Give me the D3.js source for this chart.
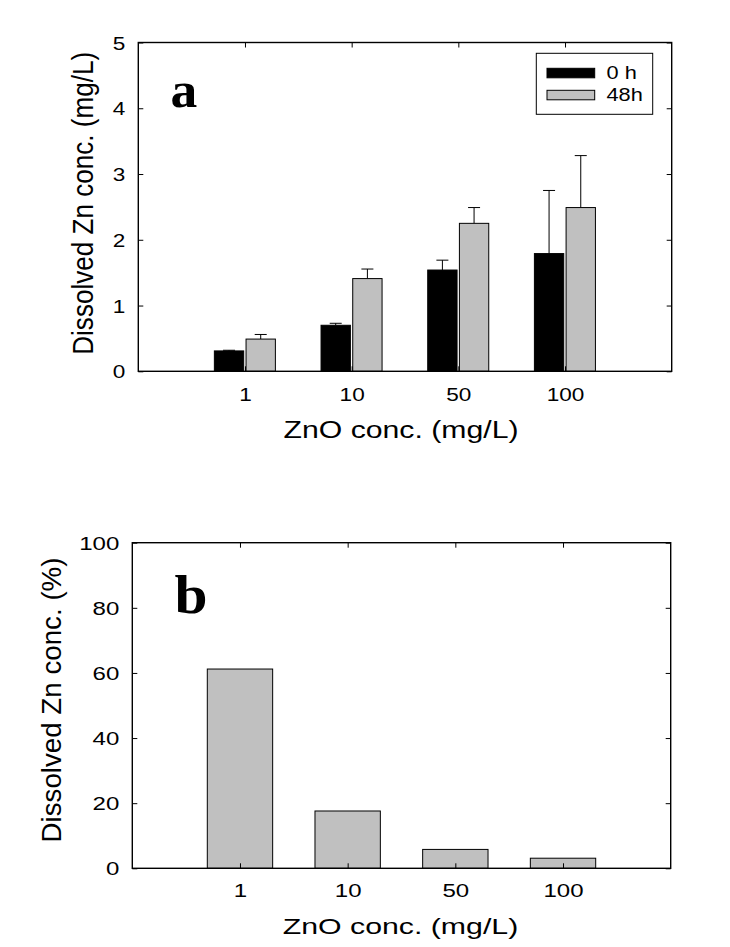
<!DOCTYPE html>
<html><head><meta charset="utf-8">
<script src="https://cdn.jsdelivr.net/npm/d3@7"></script>
<style>body{margin:0;background:#fff}svg{display:block}</style>
</head><body>
<svg id="chart" width="730" height="947"></svg>
<script>
const categories = ["1","10","50","100"];
const dissolved0h = [0.31, 0.70, 1.54, 1.79];
const dissolved0hErr = [0.01, 0.03, 0.15, 0.96];
const dissolved48h = [0.49, 1.41, 2.25, 2.49];
const dissolved48hErr = [0.07, 0.145, 0.24, 0.79];
const dissolvedPct = [61.2, 17.6, 5.8, 3.1];
const yTicksA = [0,1,2,3,4,5];
const yTicksB = [0,20,40,60,80,100];
const seriesNames = ["0 h","48h"];
const seriesColors = ["#000000","#c0c0c0"];

const svg = d3.select("#chart");
const SANS = "'Liberation Sans', Arial, sans-serif";
const SERIF = "'Liberation Serif', 'Times New Roman', serif";

function stretch(sel, sx){
  sel.each(function(){
    const L = this.getComputedTextLength();
    this.setAttribute("textLength", L*sx);
    this.setAttribute("lengthAdjust","spacingAndGlyphs");
  });
}
function fixLen(sel, len){
  sel.attr("textLength", len).attr("lengthAdjust","spacingAndGlyphs");
}

function panel(cfg){
  const g = svg.append("g");
  const x = d3.scaleLinear().domain([0,5]).range(cfg.xr);
  const y = d3.scaleLinear().domain(cfg.yd).range(cfg.yr);
  const catPos = categories.map((c,i)=>i+1);
  const tick = 5;

  cfg.draw(g, x, y);

  const bottom = g.append("g").attr("transform",`translate(0,${y(cfg.yd[0])})`)
    .call(d3.axisBottom(x).tickValues(catPos).tickFormat((d,i)=>categories[i]).tickSize(-tick).tickPadding(0));
  bottom.selectAll("text").attr("y", cfg.xLabelOff).attr("dy", 0)
    .style("font-family", SANS).style("font-size", cfg.tickFont+"px").attr("fill","#000");
  stretch(bottom.selectAll("text"), cfg.tickStretch);

  const left = g.append("g").attr("transform",`translate(${x(0)},0)`)
    .call(d3.axisLeft(y).tickValues(cfg.yTicks).tickFormat(d3.format("d")).tickSize(-tick).tickPadding(13));
  left.selectAll("text").attr("dy","0.36em")
    .style("font-family", SANS).style("font-size", cfg.tickFont+"px").attr("fill","#000");
  stretch(left.selectAll("text"), cfg.tickStretch);

  g.append("g").attr("transform",`translate(0,${y(cfg.yd[1])})`)
    .call(d3.axisTop(x).tickValues(catPos).tickFormat("").tickSize(-tick));
  g.append("g").attr("transform",`translate(${x(5)},0)`)
    .call(d3.axisRight(y).tickValues(cfg.yTicks).tickFormat("").tickSize(-tick));

  g.selectAll(".domain").remove();
  g.selectAll(".tick line").attr("stroke","#000").attr("stroke-width",1);

  g.append("rect").attr("x",x(0)).attr("y",y(cfg.yd[1]))
    .attr("width",x(5)-x(0)).attr("height",y(cfg.yd[0])-y(cfg.yd[1]))
    .attr("fill","none").attr("stroke","#000").attr("stroke-width",1.4);

  fixLen(g.append("text").attr("x",cfg.xTitle[0]).attr("y",cfg.xTitle[1])
    .attr("text-anchor","middle").style("font-family",SANS).style("font-size",cfg.xTitle[2]+"px")
    .text("ZnO conc. (mg/L)"), cfg.xTitle[3]);
  fixLen(g.append("text").attr("transform",`translate(${cfg.yTitle[0]},${cfg.yTitle[1]}) rotate(-90)`)
    .attr("text-anchor","middle").style("font-family",SANS).style("font-size",cfg.yTitle[2]+"px")
    .text(cfg.yTitleText), cfg.yTitle[3]);

  const lt = g.append("text").attr("x",cfg.letter[0]).attr("y",cfg.letter[1])
    .style("font-family",SERIF).style("font-weight","bold").style("font-size",cfg.letter[2]+"px")
    .text(cfg.letterText);
  stretch(lt, cfg.letter[3]);
  return g;
}

// Panel a
panel({
  xr:[138.3,671.7], yd:[0,5], yr:[371.3,42.5], yTicks:yTicksA,
  tickFont:18.5, tickStretch:1.22, xLabelOff:29.4,
  xTitle:[401,438.3,24.7,235], yTitle:[93.3,203.3,29,303],
  yTitleText:"Dissolved Zn conc. (mg/L)",
  letter:[170.5,107.3,51,1.05], letterText:"a",
  draw:(g,x,y)=>{
    const bw = 0.275;
    const series = [
      {vals:dissolved0h, err:dissolved0hErr, off:-0.287, color:seriesColors[0]},
      {vals:dissolved48h, err:dissolved48hErr, off:0.01, color:seriesColors[1]}
    ];
    series.forEach(s=>{
      const d = s.vals.map((v,i)=>({c:i+1, v, e:s.err[i]}));
      const eg = g.append("g");
      eg.selectAll("line.v").data(d).join("line")
        .attr("x1",p=>x(p.c+s.off+bw/2)).attr("x2",p=>x(p.c+s.off+bw/2))
        .attr("y1",p=>y(p.v)).attr("y2",p=>y(p.v+p.e))
        .attr("stroke","#000").attr("stroke-width",1);
      eg.selectAll("line.c").data(d).join("line")
        .attr("x1",p=>x(p.c+s.off+bw/2)-6).attr("x2",p=>x(p.c+s.off+bw/2)+6)
        .attr("y1",p=>y(p.v+p.e)).attr("y2",p=>y(p.v+p.e))
        .attr("stroke","#000").attr("stroke-width",1);
      g.append("g").selectAll("rect").data(d).join("rect")
        .attr("x",p=>x(p.c+s.off)).attr("width",x(bw)-x(0))
        .attr("y",p=>y(p.v)).attr("height",p=>y(0)-y(p.v))
        .attr("fill",s.color).attr("stroke","#000").attr("stroke-width",1);
    });
    const lg = g.append("g");
    lg.append("rect").attr("x",536.3).attr("y",53.3).attr("width",116.4).attr("height",61)
      .attr("fill","#fff").attr("stroke","#000").attr("stroke-width",1);
    const rows = [{n:seriesNames[0],c:seriesColors[0],sy:68.3,ty:79},{n:seriesNames[1],c:seriesColors[1],sy:90.3,ty:101}];
    rows.forEach(r=>{
      lg.append("rect").attr("x",547).attr("y",r.sy).attr("width",47.7).attr("height",9.5)
        .attr("fill",r.c).attr("stroke","#000").attr("stroke-width",1);
      const t = lg.append("text").attr("x",606.5).attr("y",r.ty)
        .style("font-family",SANS).style("font-size","18.6px").text(r.n);
      stretch(t,1.17);
    });
  }
});

// Panel b
panel({
  xr:[132.3,670.7], yd:[0,100], yr:[868.3,542.7], yTicks:yTicksB,
  tickFont:18.5, tickStretch:1.3, xLabelOff:28.4,
  xTitle:[400.5,934,22.8,235.6], yTitle:[61,700,27,285],
  yTitleText:"Dissolved Zn conc. (%)",
  letter:[174.5,612.7,54,1.1], letterText:"b",
  draw:(g,x,y)=>{
    const bw = 0.607;
    const d = dissolvedPct.map((v,i)=>({c:i+1, v}));
    g.append("g").selectAll("rect").data(d).join("rect")
      .attr("x",p=>x(p.c-bw/2)).attr("width",x(bw)-x(0))
      .attr("y",p=>y(p.v)).attr("height",p=>y(0)-y(p.v))
      .attr("fill",seriesColors[1]).attr("stroke","#000").attr("stroke-width",1);
  }
});
</script>
</body></html>
